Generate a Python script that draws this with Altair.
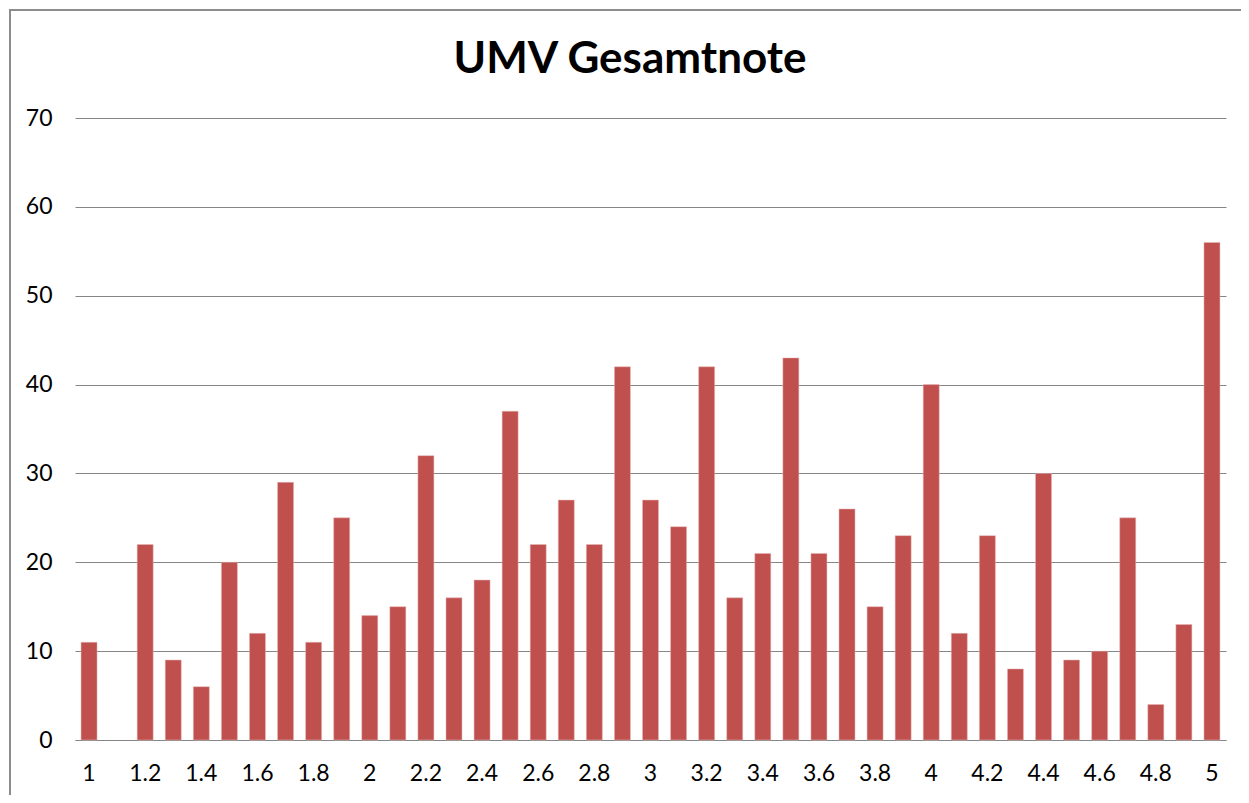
import altair as alt
import pandas as pd

categories = ["1", "1.1", "1.2", "1.3", "1.4", "1.5", "1.6", "1.7", "1.8", "1.9",
              "2", "2.1", "2.2", "2.3", "2.4", "2.5", "2.6", "2.7", "2.8", "2.9",
              "3", "3.1", "3.2", "3.3", "3.4", "3.5", "3.6", "3.7", "3.8", "3.9",
              "4", "4.1", "4.2", "4.3", "4.4", "4.5", "4.6", "4.7", "4.8", "4.9", "5"]
counts = [11, None, 22, 9, 6, 20, 12, 29, 11, 25,
          14, 15, 32, 16, 18, 37, 22, 27, 22, 42,
          27, 24, 42, 16, 21, 43, 21, 26, 15, 23,
          40, 12, 23, 8, 30, 9, 10, 25, 4, 13, 56]
x_labels = categories[::2]
y_ticks = [0, 10, 20, 30, 40, 50, 60, 70]
title_text = "UMV Gesamtnote"

df = pd.DataFrame({"Note": categories, "Anzahl": counts})

FONT = "Lato"

bars = alt.Chart(df).mark_bar(color="#C0504D", stroke="#E6B9B8", strokeWidth=0.5).encode(
    x=alt.X("Note:N", sort=categories,
            scale=alt.Scale(domain=categories, paddingInner=0.43, paddingOuter=0.215),
            axis=alt.Axis(title=None, values=x_labels, labelAngle=0, ticks=False,
                          domain=True, domainColor="#868686", domainWidth=1,
                          labelFontSize=23, labelFont=FONT, labelColor="#000000",
                          labelPadding=22, grid=False)),
    y=alt.Y("Anzahl:Q", scale=alt.Scale(domain=[0, 70], nice=False),
            axis=alt.Axis(title=None, values=y_ticks, ticks=False, domain=False,
                          grid=True, gridColor="#868686", gridWidth=1,
                          labelAlign="right", labelPadding=23,
                          labelFontSize=23, labelFont=FONT, labelColor="#000000")),
)

deco = pd.DataFrame({"k": [0]})

border = alt.Chart(deco).mark_rect(
    fill=None, stroke="#8C8C8C", strokeWidth=2, clip=False
).encode(
    x=alt.value(-65), x2=alt.value(1200), y=alt.value(-108), y2=alt.value(720)
)

title = alt.Chart(deco).mark_text(
    text=title_text, font=FONT, fontSize=44, fontWeight="bold", color="#000000",
    align="center", baseline="alphabetic", clip=False
).encode(x=alt.value(555), y=alt.value(-45))

chart = alt.layer(bars, border, title).properties(
    width=1151, height=622,
    autosize=alt.AutoSizeParams(type="none"),
    padding={"left": 67, "top": 110, "right": 15, "bottom": 55},
).configure_view(stroke=None)

chart.save("out.html", embed_options={"renderer": "svg", "actions": False})
